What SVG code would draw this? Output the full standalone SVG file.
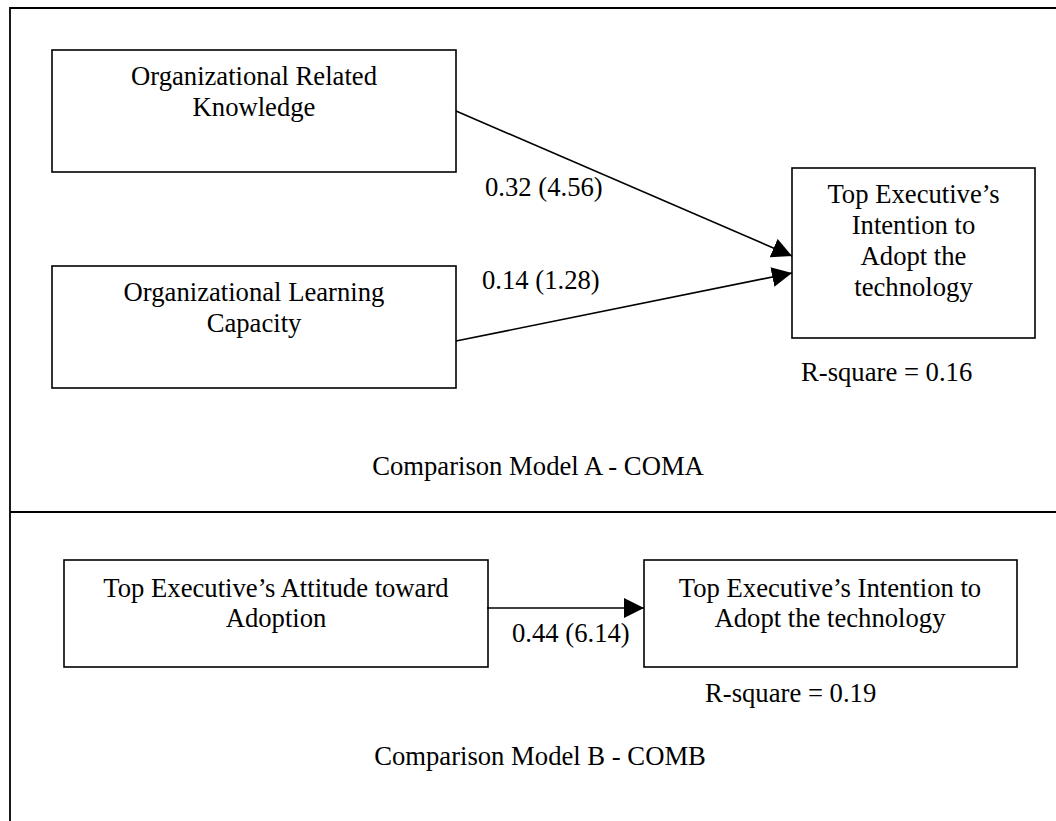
<svg xmlns="http://www.w3.org/2000/svg" width="1056" height="821" viewBox="0 0 1056 821">
  <style>
    .frame { fill: none; stroke: #000; stroke-width: 1.8; }
    .box { fill: #fff; stroke: #000; stroke-width: 1.6; }
    .edge { fill: none; stroke: #000; stroke-width: 1.6; }
    text { font-family: "Liberation Serif", "Times New Roman", serif; font-size: 26.67px; fill: #000; }
    .c { text-anchor: middle; }
  </style>
  <defs>
    <marker id="arrow" markerUnits="userSpaceOnUse" markerWidth="21" markerHeight="21" refX="20" refY="10" orient="auto" viewBox="0 0 21 21">
      <path d="M0,0 L20,10 L0,20 Z" fill="#000"/>
    </marker>
  </defs>

  <rect width="1056" height="821" fill="#fff"/>

  <!-- outer frame, open on the right and bottom edges, with the section divider -->
  <g id="frame">
    <path class="frame" d="M10,821 V8 H1056"/>
    <path class="frame" d="M10,512 H1056"/>
  </g>

  <!-- Model A -->
  <g id="orgKnowledge">
    <rect class="box" x="52" y="50" width="404" height="122"/>
    <text class="c" x="254" y="85">Organizational Related</text>
    <text class="c" x="254" y="116">Knowledge</text>
  </g>
  <g id="orgLearning">
    <rect class="box" x="52" y="266" width="404" height="122"/>
    <text class="c" x="254" y="301">Organizational Learning</text>
    <text class="c" x="254" y="332">Capacity</text>
  </g>
  <g id="intentionA">
    <rect class="box" x="792" y="168" width="243" height="170"/>
    <text class="c" x="913.5" y="203">Top Executive’s</text>
    <text class="c" x="913.5" y="234">Intention to</text>
    <text class="c" x="913.5" y="265">Adopt the</text>
    <text class="c" x="913.5" y="296">technology</text>
  </g>
  <text id="rsquareA" x="801" y="381">R-square = 0.16</text>
  <text id="titleA" class="c" x="538" y="475">Comparison Model A - COMA</text>

  <!-- Model B -->
  <g id="attitudeB">
    <rect class="box" x="64" y="560" width="424" height="107"/>
    <text class="c" x="276" y="597">Top Executive’s Attitude toward</text>
    <text class="c" x="276" y="627">Adoption</text>
  </g>
  <g id="intentionB">
    <rect class="box" x="644" y="560" width="373" height="107"/>
    <text class="c" x="830" y="597">Top Executive’s Intention to</text>
    <text class="c" x="830" y="627">Adopt the technology</text>
  </g>
  <text id="rsquareB" x="705" y="702">R-square = 0.19</text>
  <text id="titleB" class="c" x="540" y="765">Comparison Model B - COMB</text>

  <!-- path coefficients -->
  <g id="connectors">
    <line class="edge" x1="456" y1="111" x2="792" y2="256" marker-end="url(#arrow)"/>
    <line class="edge" x1="456" y1="341" x2="792" y2="273" marker-end="url(#arrow)"/>
    <line class="edge" x1="487" y1="608" x2="644" y2="608" marker-end="url(#arrow)"/>
    <text x="485" y="196">0.32 (4.56)</text>
    <text x="482" y="289">0.14 (1.28)</text>
    <text x="512" y="642">0.44 (6.14)</text>
  </g>
</svg>
